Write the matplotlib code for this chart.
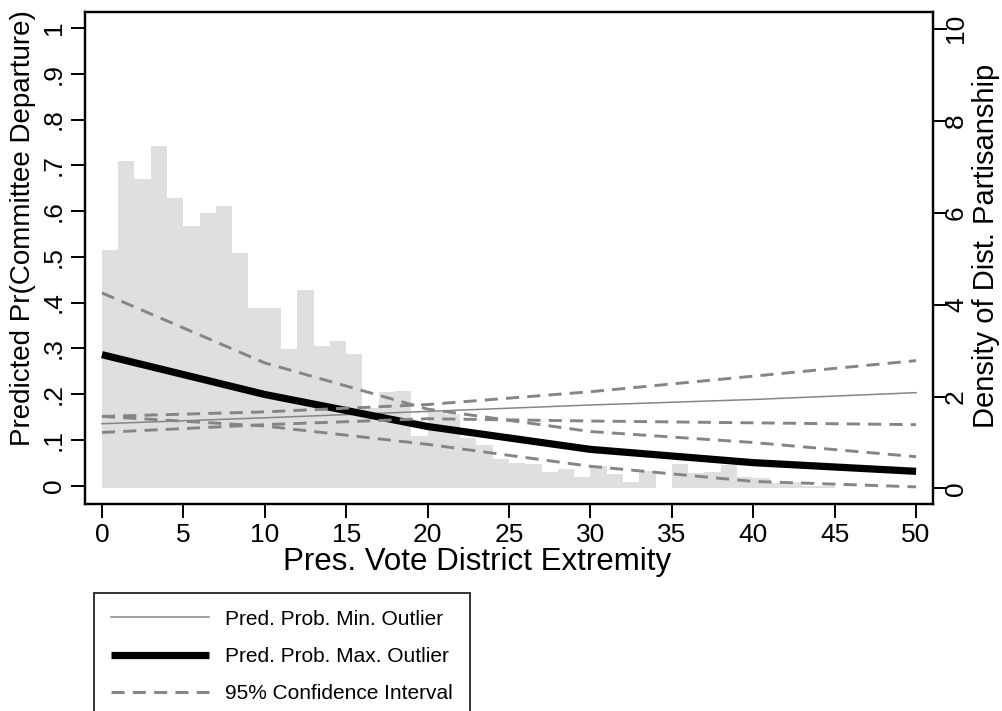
import numpy as np
import matplotlib
matplotlib.use('Agg')
import matplotlib.pyplot as plt
from matplotlib.lines import Line2D

plt.rcParams['font.family'] = ['Liberation Sans', 'DejaVu Sans']

# predicted probabilities at the evaluated extremity values
extremity = [0, 10, 20, 30, 40, 50]
min_pred = [0.135, 0.148, 0.162, 0.176, 0.188, 0.203]
min_lo = [0.116, 0.133, 0.146, 0.141, 0.137, 0.133]
min_hi = [0.151, 0.161, 0.177, 0.205, 0.239, 0.273]
max_pred = [0.286, 0.199, 0.129, 0.079, 0.050, 0.031]
max_lo = [0.151, 0.130, 0.090, 0.042, 0.009, -0.003]
max_hi = [0.421, 0.268, 0.167, 0.118, 0.094, 0.063]

# density of district partisanship, bins of width 1 starting at 0
dens = [5.19, 7.11, 6.72, 7.45, 6.32, 5.71, 6.00, 6.15, 5.13, 3.93,
        3.93, 3.04, 4.32, 3.10, 3.21, 2.93, 1.75, 2.10, 2.12, 1.14,
        1.66, 1.62, 1.10, 0.95, 0.64, 0.55, 0.53, 0.36, 0.42, 0.25,
        0.49, 0.32, 0.14, 0.38, 0.02, 0.53, 0.34, 0.36, 0.51, 0.25,
        0.23, 0.12, 0.14, 0.05, 0.05]
bin_left = np.arange(len(dens))

fig = plt.figure(figsize=(10.03, 7.11), dpi=100)
ax = fig.add_axes([85 / 1003, 1 - 504 / 711, 848 / 1003, 492 / 711])
ax2 = ax.twinx()
ax.set_zorder(ax2.get_zorder() + 1)
ax.patch.set_visible(False)

ax2.bar(bin_left, dens, width=1, align='edge', color='#dfdfdf', linewidth=0)

gray = '#858585'
dash = (4.5, 2.8)
ax.plot(extremity, min_pred, color=gray, lw=1.1)
ax.plot(extremity, max_pred, color='black', lw=5.2, solid_capstyle='butt')
for ci in (min_lo, min_hi, max_lo, max_hi):
    ax.plot(extremity, ci, color=gray, lw=2.1, dashes=dash)

ax.set_xlim(-1.04, 51.04)
ax.set_ylim(-0.0404, 1.035)
ax2.set_ylim(-0.337, 10.359)

ax.set_xticks(range(0, 51, 5))
ax.set_yticks(np.arange(0, 1.01, 0.1))
ax.set_yticklabels(['0', '.1', '.2', '.3', '.4', '.5', '.6', '.7', '.8', '.9', '1'])
ax2.set_yticks(range(0, 11, 2))

for a in (ax, ax2):
    a.tick_params(direction='out', length=10, width=1.4, labelsize=19, pad=4)
    for s in a.spines.values():
        s.set_linewidth(1.6)
ax2.tick_params(axis='y', pad=-2)
plt.setp(ax.get_yticklabels(), rotation=90, va='center')
plt.setp(ax2.get_yticklabels(), rotation=90, va='center')

# axis titles
fig.text(477 / 1003, 1 - 562 / 711, 'Pres. Vote District Extremity',
         fontsize=22.5, ha='center', va='center')
fig.text(23 / 1003, 1 - 228 / 711, 'Predicted Pr(Committee Departure)',
         fontsize=20, rotation=90, ha='center', va='center')
fig.text(986 / 1003, 1 - 246 / 711, 'Density of Dist. Partisanship',
         fontsize=21, rotation=90, ha='center', va='center')

handles = [
    Line2D([], [], color=gray, lw=1.1),
    Line2D([], [], color='black', lw=5.2, solid_capstyle='butt'),
    Line2D([], [], color=gray, lw=2.1, dashes=dash),
]
labels = ['Pred. Prob. Min. Outlier', 'Pred. Prob. Max. Outlier',
          '95% Confidence Interval']
leg = fig.legend(handles, labels, loc='upper left',
                 bbox_to_anchor=(94 / 1003, 1 - 593 / 711),
                 fontsize=15, frameon=True, fancybox=False,
                 edgecolor='black', handlelength=4.7, handletextpad=0.8,
                 labelspacing=0.88, borderpad=0.8, borderaxespad=0)
leg.get_frame().set_linewidth(1.4)

fig.savefig('out.png', dpi=100)
